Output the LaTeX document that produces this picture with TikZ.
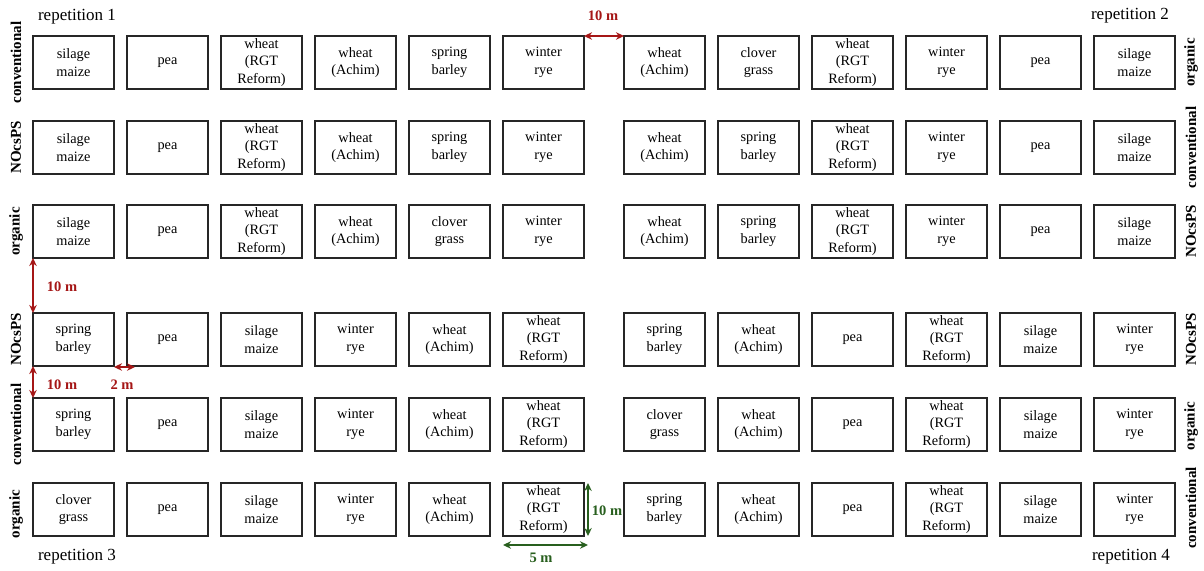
\documentclass[tikz,border=0pt]{standalone}
\usepackage{fontspec}
\setmainfont{Liberation Serif}
\usetikzlibrary{arrows.meta}
\definecolor{mred}{RGB}{165,22,22}
\definecolor{mgreen}{RGB}{40,95,30}
\def\SM{silage\\maize}
\def\PEA{pea}
\def\WR{wheat\\(RGT\\Reform)}
\def\WA{wheat\\(Achim)}
\def\SB{spring\\barley}
\def\WY{winter\\rye}
\def\CG{clover\\grass}
\newcommand\plotrow[3]{%
  \foreach \txt [count=\c] in {#3}{%
    \pgfmathsetmacro\xx{\c<7 ? 73.5+94*(\c-1) : 664.5+94*(\c-7)}%
    \node[plotbox] (b#1c\c) at (\xx,#2+26.5) {\txt};}}
\begin{document}
\begin{tikzpicture}[x=1pt,y=-1pt,
  plotbox/.style={draw=black!85,line width=1.6pt,minimum width=81pt,minimum height=53pt,
    inner sep=0pt,outer sep=0pt,align=center,font=\fontsize{14.3}{17.5}\selectfont},
  side/.style={rotate=90,font=\fontsize{15}{16}\selectfont\bfseries},
  rep/.style={font=\fontsize{17}{19}\selectfont},
  meas/.style={line width=1.6pt,{Stealth[length=8pt,width=7.5pt]}-{Stealth[length=8pt,width=7.5pt]}},
  mlab/.style={font=\fontsize{14.5}{16}\selectfont\bfseries}]
\useasboundingbox (0,0) rectangle (1204,570);
\plotrow{1}{36}{\SM,\PEA,\WR,\WA,\SB,\WY,\WA,\CG,\WR,\WY,\PEA,\SM}
\plotrow{2}{121}{\SM,\PEA,\WR,\WA,\SB,\WY,\WA,\SB,\WR,\WY,\PEA,\SM}
\plotrow{3}{205}{\SM,\PEA,\WR,\WA,\CG,\WY,\WA,\SB,\WR,\WY,\PEA,\SM}
\plotrow{4}{313}{\SB,\PEA,\SM,\WY,\WA,\WR,\SB,\WA,\PEA,\WR,\SM,\WY}
\plotrow{5}{398}{\SB,\PEA,\SM,\WY,\WA,\WR,\CG,\WA,\PEA,\WR,\SM,\WY}
\plotrow{6}{483}{\CG,\PEA,\SM,\WY,\WA,\WR,\SB,\WA,\PEA,\WR,\SM,\WY}
% side labels
\node[side] (l1) at (16,62.5) {conventional};
\node[side] (l2) at (16,147.5) {NOcsPS};
\node[side] (l3) at (16,231.5) {organic};
\node[side] (l4) at (16,339.5) {NOcsPS};
\node[side] (l5) at (16,424.5) {conventional};
\node[side] (l6) at (16,514) {organic};
\node[side] (r1) at (1191,62.5) {organic};
\node[side] (r2) at (1191,147.5) {conventional};
\node[side] (r3) at (1191,231.5) {NOcsPS};
\node[side] (r4) at (1191,339.5) {NOcsPS};
\node[side] (r5) at (1191,426) {organic};
\node[side] (r6) at (1191,508) {conventional};
% repetitions
\node[rep] (rep1) at (77,17) {repetition 1};
\node[rep] (rep2) at (1130,16) {repetition 2};
\node[rep] (rep3) at (77,557) {repetition 3};
\node[rep] (rep4) at (1131,557) {repetition 4};
% red measurements
\draw[meas,mred] (b1c6.north east) -- (b1c7.north west);
\node[mlab,mred] (m1) at (603,16) {10 m};
\draw[meas,mred] (b3c1.south west) -- (b4c1.north west);
\node[mlab,mred] (m2) at (62,287) {10 m};
\draw[meas,mred] (b4c1.south west) -- (b5c1.north west);
\node[mlab,mred] (m3) at (62,385) {10 m};
\draw[meas,mred] ([yshift=-1pt]b4c1.south east) -- ([xshift=8pt,yshift=-1pt]b4c2.south west);
\node[mlab,mred] (m4) at (122,385) {2 m};
% green measurements
\draw[meas,mgreen] ([xshift=4pt]b6c6.north east) -- ([xshift=4pt]b6c6.south east);
\node[mlab,mgreen] (m5) at (607,511) {10 m};
\draw[meas,mgreen] ([yshift=-9pt]b6c6.south west) -- ([xshift=4pt,yshift=-9pt]b6c6.south east);
\node[mlab,mgreen] (m6) at (541,558) {5 m};
\end{tikzpicture}
\end{document}
